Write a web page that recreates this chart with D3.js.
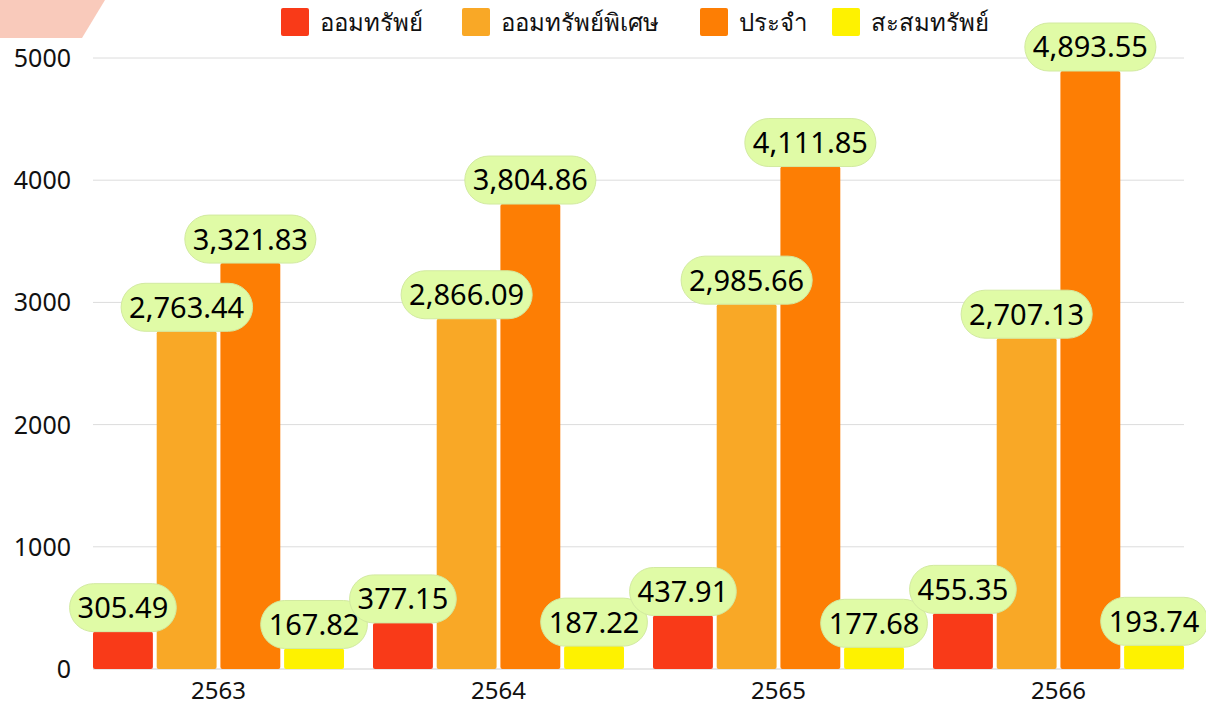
<!DOCTYPE html>
<html>
<head>
<meta charset="utf-8">
<script src="https://cdn.jsdelivr.net/npm/d3@7"></script>
<style>
  body { margin: 0; background: #fff; }
  text { font-family: "Noto Sans", "DejaVu Sans", sans-serif; }
</style>
</head>
<body>
<svg id="chart" width="1206" height="707"></svg>
<script>
var years = ["2563", "2564", "2565", "2566"];
var seriesNames = ["ออมทรัพย์", "ออมทรัพย์พิเศษ", "ประจำ", "สะสมทรัพย์"];
var savings = [305.49, 377.15, 437.91, 455.35];
var specialSavings = [2763.44, 2866.09, 2985.66, 2707.13];
var fixedDeposit = [3321.83, 3804.86, 4111.85, 4893.55];
var accumSavings = [167.82, 187.22, 177.68, 193.74];
var yTicks = [0, 1000, 2000, 3000, 4000, 5000];
var colors = ["#f93a18", "#f9a826", "#fd7e04", "#fef200"];

var allSeries = [savings, specialSavings, fixedDeposit, accumSavings];

var svg = d3.select("#chart");
var plotLeft = 93, plotRight = 1184, plotTop = 58, plotBottom = 669;

// pink corner decoration
svg.append("path")
  .attr("d", "M0,0 L105,0 L82,38 L0,38 Z")
  .attr("fill", "#f9cabb");

var x0 = d3.scaleBand().domain(years).range([plotLeft, plotRight]).paddingInner(0.1036).paddingOuter(0);
var x1 = d3.scaleBand().domain(d3.range(4)).range([0, x0.bandwidth()]).paddingInner(0.06);
var y = d3.scaleLinear().domain([0, 5000]).range([plotBottom, plotTop]);

// grid
svg.append("g").selectAll("line").data(yTicks).join("line")
  .attr("x1", plotLeft).attr("x2", plotRight)
  .attr("y1", function(d) { return y(d); }).attr("y2", function(d) { return y(d); })
  .attr("stroke", function(d) { return d === 0 ? "#cfcfcf" : "#dcdcdc"; })
  .attr("stroke-width", 1);

svg.append("g").selectAll("text").data(yTicks).join("text")
  .attr("x", 71).attr("y", function(d) { return y(d); })
  .attr("dy", "0.36em")
  .attr("text-anchor", "end")
  .attr("font-size", 25)
  .attr("fill", "#111")
  .text(function(d) { return d; });

// bars
var fmt = d3.format(",.2f");
var data = [];
years.forEach(function(yr, i) {
  allSeries.forEach(function(s, j) {
    data.push({ year: yr, k: j, v: s[i] });
  });
});

svg.append("g").selectAll("rect").data(data).join("rect")
  .attr("x", function(d) { return x0(d.year) + x1(d.k); })
  .attr("y", function(d) { return y(d.v); })
  .attr("width", x1.bandwidth())
  .attr("height", function(d) { return plotBottom - y(d.v); })
  .attr("rx", 2)
  .attr("fill", function(d) { return colors[d.k]; });

// x labels
svg.append("g").selectAll("text").data(years).join("text")
  .attr("x", function(d) { return x0(d) + x0.bandwidth() / 2; })
  .attr("y", 699)
  .attr("text-anchor", "middle")
  .attr("font-size", 24)
  .attr("fill", "#111")
  .text(function(d) { return d; });

// value pills
var lbl = svg.append("g").selectAll("g").data(data).join("g")
  .attr("transform", function(d) {
    return "translate(" + (x0(d.year) + x1(d.k) + x1.bandwidth() / 2) + "," + (y(d.v) - 24) + ")";
  });
lbl.append("text")
  .attr("text-anchor", "middle")
  .attr("dy", "0.36em")
  .attr("font-size", 29)
  .attr("fill", "#000")
  .text(function(d) { return fmt(d.v); });
lbl.each(function() {
  var g = d3.select(this);
  var bb = g.select("text").node().getBBox();
  g.insert("rect", "text")
    .attr("x", bb.x - 8).attr("y", -24)
    .attr("width", bb.width + 16).attr("height", 48)
    .attr("rx", 24)
    .attr("fill", "#e0fba6")
    .attr("stroke", "#d2eaa0")
    .attr("stroke-width", 1);
});

// legend
var legX = [281, 462, 700, 832];
var leg = svg.append("g").selectAll("g").data(seriesNames).join("g")
  .attr("transform", function(d, i) { return "translate(" + legX[i] + ",8)"; });
leg.append("rect")
  .attr("width", 28).attr("height", 28).attr("rx", 2)
  .attr("fill", function(d, i) { return colors[i]; });
leg.append("text")
  .attr("x", 39).attr("y", 14).attr("dy", "0.36em")
  .attr("font-size", 24).attr("fill", "#111")
  .text(function(d) { return d; });
</script>
</body>
</html>
